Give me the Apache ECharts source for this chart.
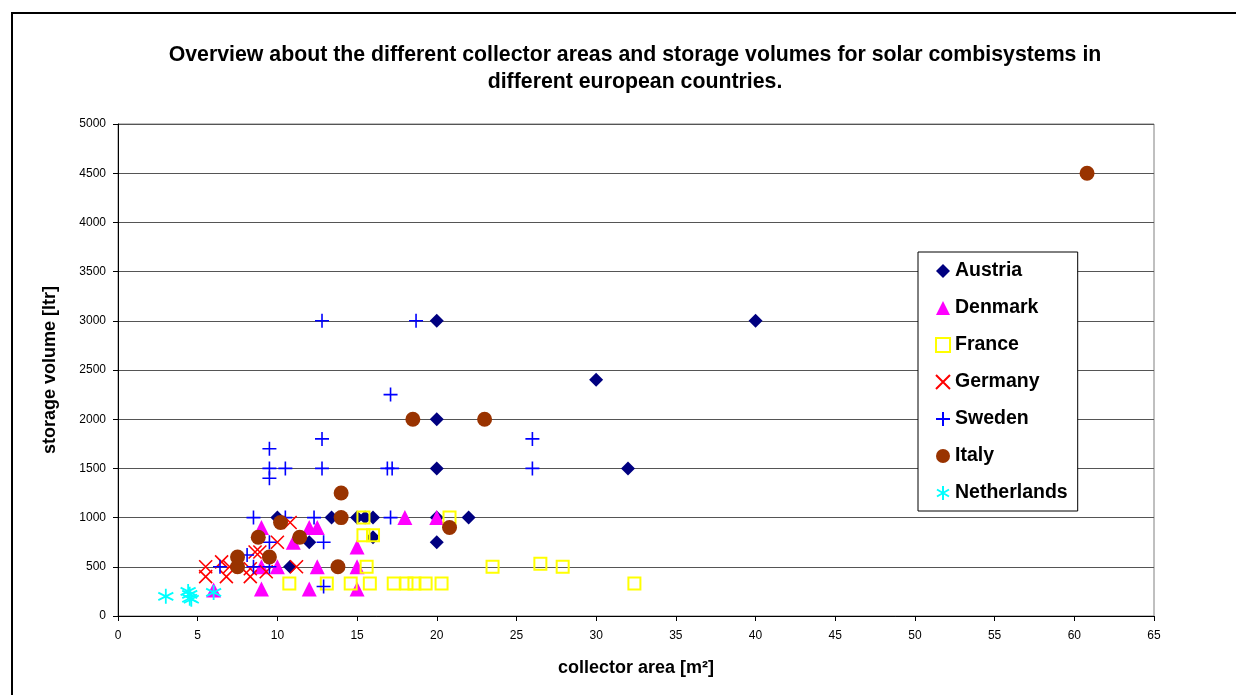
<!DOCTYPE html>
<html>
<head>
<meta charset="utf-8">
<script src="https://cdn.jsdelivr.net/npm/echarts@6/dist/echarts.min.js"></script>
<style>
html,body{margin:0;padding:0;background:#fff;}
#chart{width:1236px;height:695px;}
</style>
</head>
<body>
<div id="chart"></div>
<script>
var titleText = 'Overview about the different collector areas and storage volumes for solar combisystems in\ndifferent european countries.';
var xAxisName = 'collector area [m²]';
var yAxisName = 'storage volume [ltr]';

var austria = [[20,3000],[40,3000],[30,2400],[20,2000],[20,1500],[32,1500],[10,1000],[13.4,1000],[14,1000],[15,1000],[15.5,1000],[16,1000],[20,1000],[22,1000],[12,750],[16,800],[20,750],[10.8,500]];
var denmark = [[6,265],[9,275],[9,500],[9,900],[10,500],[11,750],[12,275],[12,900],[12.5,900],[12.5,500],[15,275],[15,500],[15,700],[18,1000],[20,1000]];
var france = [[10.75,330],[13.1,330],[14.6,330],[15.4,1000],[15.4,820],[16,820],[15.6,500],[15.8,330],[17.3,330],[18.1,330],[18.6,330],[19.3,330],[20.3,330],[20.8,1000],[23.5,500],[26.5,530],[27.9,500],[32.4,330]];
var germany = [[5.5,500],[5.5,400],[6.5,550],[6.8,400],[7,500],[8.3,400],[8.3,480],[8.6,650],[8.9,650],[9.3,450],[10,750],[10.8,950],[11.2,500]];
var sweden = [[12.8,3000],[18.7,3000],[17.1,2250],[26,1800],[12.8,1800],[26,1500],[9.5,1700],[9.5,1500],[9.5,1400],[10.5,1500],[12.8,1500],[16.9,1500],[17.2,1500],[8.5,1000],[10.5,1000],[12.3,1000],[17.1,1000],[9.5,750],[12.9,750],[8.1,620],[6.4,500],[8.5,500],[9.5,500],[12.9,300]];
var italy = [[7.5,500],[7.5,600],[8.8,800],[9.5,600],[10.2,950],[11.4,800],[13.8,500],[14,1000],[14,1250],[18.5,2000],[20.8,900],[23,2000],[60.8,4500]];
var netherlands = [[3,200],[4.4,250],[4.5,220],[4.5,180],[4.6,170],[6,240]];

var seriesNames = ['Austria','Denmark','France','Germany','Sweden','Italy','Netherlands'];
var seriesData = [austria, denmark, france, germany, sweden, italy, netherlands];
var seriesColors = ['#000080','#FF00FF','#FFFF00','#FF0000','#0000FF','#993300','#00FFFF'];

var FONT = '"Liberation Sans", Arial, sans-serif';
var symX = 'path://M0,0L10,10M10,0L0,10';
var symPlus = 'path://M5,0L5,10M0,5L10,5';
var symAst = 'path://M5,0L5,10M0.7,2.5L9.3,7.5M0.7,7.5L9.3,2.5';

var styles = [
  {symbol:'diamond', size:14, item:{color:seriesColors[0], opacity:1}},
  {symbol:'triangle', size:15, item:{color:seriesColors[1], opacity:1}},
  {symbol:'rect', size:12, item:{color:'rgba(0,0,0,0)', borderColor:seriesColors[2], borderWidth:2, opacity:1}},
  {symbol:symX, size:13, item:{color:seriesColors[3], borderColor:seriesColors[3], borderWidth:1.6, opacity:1}},
  {symbol:symPlus, size:14, item:{color:seriesColors[4], borderColor:seriesColors[4], borderWidth:1.6, opacity:1}},
  {symbol:'circle', size:15, item:{color:seriesColors[5], opacity:1}},
  {symbol:symAst, size:15, item:{color:seriesColors[6], borderColor:seriesColors[6], borderWidth:1.8, opacity:1}}
];

var series = seriesNames.map(function(n, i){
  return {
    name: n,
    type: 'scatter',
    data: seriesData[i],
    symbol: styles[i].symbol,
    symbolSize: styles[i].size,
    itemStyle: styles[i].item,
    z: 2 + i,
    animation: false
  };
});

var chart = echarts.init(document.getElementById('chart'), null, {renderer:'canvas'});
chart.setOption({
  backgroundColor: '#fff',
  animation: false,
  title: {
    text: titleText,
    left: 630,
    textAlign: 'center',
    top: 37,
    textStyle: {fontFamily: FONT, fontSize: 21.3, fontWeight: 'bold', color: '#000', lineHeight: 27}
  },
  graphic: [{
    type: 'rect',
    shape: {x: 12, y: 13, width: 1400, height: 800},
    style: {fill: 'none', stroke: '#000', lineWidth: 2},
    silent: true, z: 0
  }],
  grid: {
    left: 118, right: 82, top: 124, bottom: 79,
    show: true, borderColor: '#808080', borderWidth: 1, backgroundColor: 'transparent'
  },
  legend: {
    orient: 'vertical',
    left: 918, top: 252,
    padding: [9, 10, 8, 17],
    itemGap: 17,
    itemWidth: 14, itemHeight: 14,
    backgroundColor: '#fff',
    borderColor: '#000', borderWidth: 1,
    textStyle: {fontFamily: FONT, fontSize: 19.5, fontWeight: 'bold', color: '#000', lineHeight: 20},
    data: seriesNames
  },
  xAxis: {
    type: 'value', min: 0, max: 65, interval: 5,
    name: xAxisName, nameLocation: 'middle', nameGap: 43,
    nameTextStyle: {fontFamily: FONT, fontSize: 18, fontWeight: 'bold', color: '#000'},
    axisLine: {show: true, lineStyle: {color: '#000', width: 1}},
    axisTick: {show: true, length: 5, lineStyle: {color: '#000'}},
    axisLabel: {fontFamily: FONT, fontSize: 12, color: '#000', margin: 14},
    splitLine: {show: false}
  },
  yAxis: {
    type: 'value', min: 0, max: 5000, interval: 500,
    name: yAxisName, nameLocation: 'middle', nameGap: 59,
    nameTextStyle: {fontFamily: FONT, fontSize: 18, fontWeight: 'bold', color: '#000'},
    axisLine: {show: true, lineStyle: {color: '#000', width: 1}},
    axisTick: {show: true, length: 5, lineStyle: {color: '#000'}},
    axisLabel: {fontFamily: FONT, fontSize: 12, color: '#000', margin: 12, formatter: function(v){ return String(v); }},
    splitLine: {show: true, lineStyle: {color: '#555', width: 1}}
  },
  series: series
});
</script>
</body>
</html>
